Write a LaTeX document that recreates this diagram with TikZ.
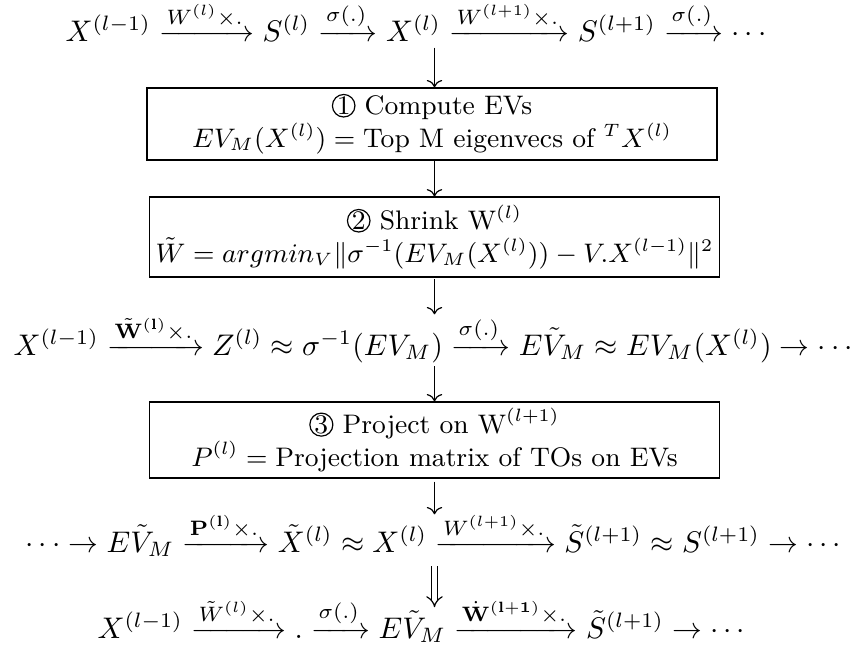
\documentclass[tikz,border=0pt]{standalone}
\usepackage{amsmath,amssymb}
\usetikzlibrary{arrows.meta,cd}
\newcommand{\circnum}[1]{\tikz[baseline=(cn.base),x=1cm,y=1cm]\node[draw,circle,inner sep=0pt,minimum width=0pt,minimum height=0pt,line width=0.4pt,anchor=center](cn){#1};}
\begin{document}
\begin{tikzpicture}[x=0.3356pt,y=-0.3356pt,
  rowtext/.style={inner sep=0pt,anchor=base west},
  stepbox/.style={draw,line width=0.4pt,align=center,inner sep=0pt,font=\small,minimum width=191.3pt},
  varrow/.style={-{cm to},line width=0.4pt},
  dvarrow/.style={double equal sign distance,-Implies,line width=0.4pt}]
\useasboundingbox (0,0) rectangle (860,648);

\node[rowtext] (r1) at (65,41) {$X^{(l-1)} \xrightarrow{W^{(l)}\times.} S^{(l)} \xrightarrow{\sigma(.)} X^{(l)} \xrightarrow{W^{(l+1)}\times.} S^{(l+1)} \xrightarrow{\sigma(.)} \cdots$};

\node[stepbox,minimum height=24.2pt] (b1) at (432,124) {\circnum{1} Compute EVs\\ $EV_M(X^{(l)}) = \text{Top M eigenvecs of } {}^TX^{(l)}$};

\node[stepbox,minimum height=26.8pt] (b2) at (434.5,237) {\circnum{2} Shrink W$^{(l)}$\\ $\tilde{W} = argmin_V \|\sigma^{-1}(EV_M(X^{(l)})) - V.X^{(l-1)}\|^2$};

\node[rowtext] (r3) at (13,355) {$X^{(l-1)} \xrightarrow{\tilde{\mathbf{W}}^{(\mathbf{l})}\times.} Z^{(l)} \approx \sigma^{-1}(EV_M) \xrightarrow{\sigma(.)} E\tilde{V}_M \approx EV_M(X^{(l)}) \rightarrow \cdots$};

\node[stepbox,minimum height=25.5pt] (b3) at (434.5,440) {\circnum{3} Project on W$^{(l+1)}$\\ $P^{(l)} = \text{Projection matrix of TOs on EVs}$};

\node[rowtext] (r4) at (25,552) {$\cdots \rightarrow E\tilde{V}_M \xrightarrow{\mathbf{P}^{(\mathbf{l})}\times.} \tilde{X}^{(l)} \approx X^{(l)} \xrightarrow{W^{(l+1)}\times.} \tilde{S}^{(l+1)} \approx S^{(l+1)} \rightarrow \cdots$};

\node[rowtext] (r5) at (97,638) {$X^{(l-1)} \xrightarrow{\tilde{W}^{(l)}\times.} . \xrightarrow{\sigma(.)} E\tilde{V}_M \xrightarrow{\dot{\mathbf{W}}^{(\mathbf{l+1})}\times.} \tilde{S}^{(l+1)} \rightarrow \cdots$};

\draw[varrow,shorten <=2pt] (r1.south -| b2.north) -- (b1.north -| b2.north);
\draw[varrow] (b1.south -| b2.north) -- (b2.north);
\draw[varrow,shorten <=0.5pt] (b2.south) -- (r3.north -| b2.south);
\draw[varrow,shorten <=1pt] (r3.south -| b3.north) -- (b3.north);
\draw[varrow,shorten <=1pt,shorten >=-1pt] (b3.south) -- (r4.north -| b3.south);
\draw[dvarrow,shorten <=3pt,shorten >=-3.3pt] (r4.south -| b3.south) -- (r5.north -| b3.south);
\end{tikzpicture}
\end{document}
